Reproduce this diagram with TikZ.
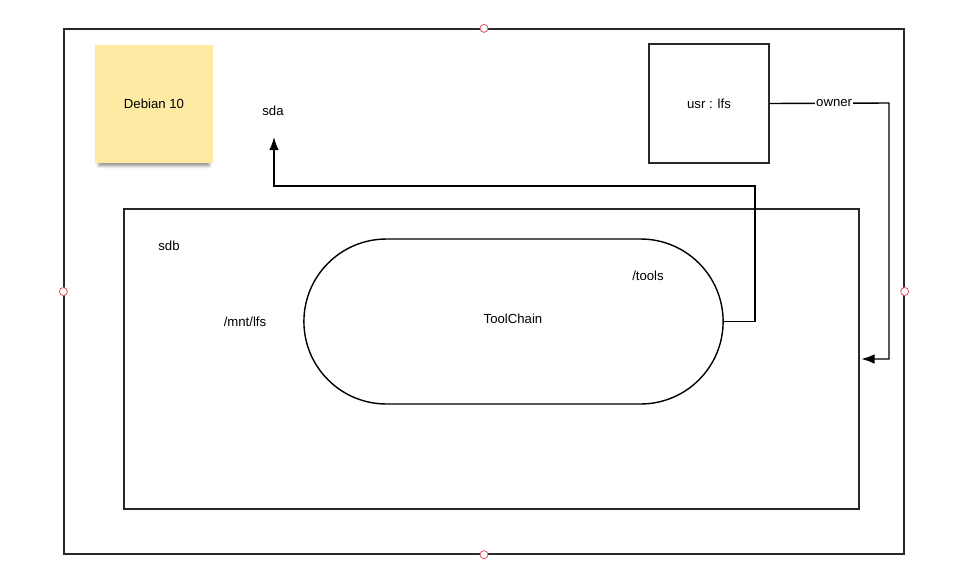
\documentclass[tikz,border=0pt]{standalone}
\usepackage{fontspec}
\setmainfont{Liberation Sans}
\usetikzlibrary{arrows.meta,positioning,shapes.misc,shadows.blur}
\definecolor{notecolor}{RGB}{254,235,163}
\definecolor{handlecolor}{RGB}{226,92,104}
\definecolor{linecolor}{RGB}{40,40,40}
\tikzset{ >={Latex[length=7.5pt,width=5.5pt]}, every node/.style={font=\fontsize{7.5}{9}\selectfont},
  kasse/.style={ rectangle, draw=linecolor, line width=0.8pt, inner sep=0pt},
  notat/.style={ rectangle, fill=notecolor, inner sep=0pt, minimum width=2.36cm, minimum height=2.36cm,
    blur shadow={shadow xshift=0pt, shadow yshift=-4pt, shadow scale=0.93, shadow opacity=50, shadow blur steps=6}},
  pille/.style={ rounded rectangle, draw=black, line width=0.8pt, minimum width=8.62cm, minimum height=3.3cm},
  handtak/.style={ circle, draw=handlecolor, fill=white, line width=0.5pt, minimum size=0.16cm, inner sep=0pt},
  pil/.style={ ->, draw=black, line width=0.8pt}}

\begin{document}
\begin{tikzpicture}[x=0.02cm, y=-0.02cm]
    \useasboundingbox (0,0) rectangle (955,585);
    %frames
    \node[kasse, minimum width=16.8cm, minimum height=10.5cm] (disk) at (484,291.5) {};
    \node[kasse, minimum width=14.7cm, minimum height=6cm] (sdb) at (491.5,359) {};
    \node[kasse, minimum width=2.4cm, minimum height=2.38cm] (usr) at (709,103.5) {usr : lfs};
    \node[notat] (debian) at (154,104) {Debian 10};
    \node[pille] (chain) at (513.5,321.5) {};
    % labels
    \node (chainlabel) at (513,319) {ToolChain};
    \node (sda) at (273,111) {sda};
    \node (sdblabel) at (169,246) {sdb};
    \node (mnt) at (245,322) {/mnt/lfs};
    \node (tools) at (648,276) {/tools};
    % selection handles on the outer frame
    \foreach \anker in {north,south,east,west}
      \node[handtak] at (disk.\anker) {};
    % connectors
    \coordinate (sdatip) at (274,137);
    \coordinate (ownerturn) at (889,103);
    \draw[pil] (chain.east) -- ++(31,0) |- (sdatip |- 0,186) -- (sdatip);
    \draw[pil] (usr.east) -- node[pos=0.54, fill=white, inner sep=0.5pt] {owner} (ownerturn)
      |- ([xshift=1pt]sdb.east);
\end{tikzpicture}
\end{document}
